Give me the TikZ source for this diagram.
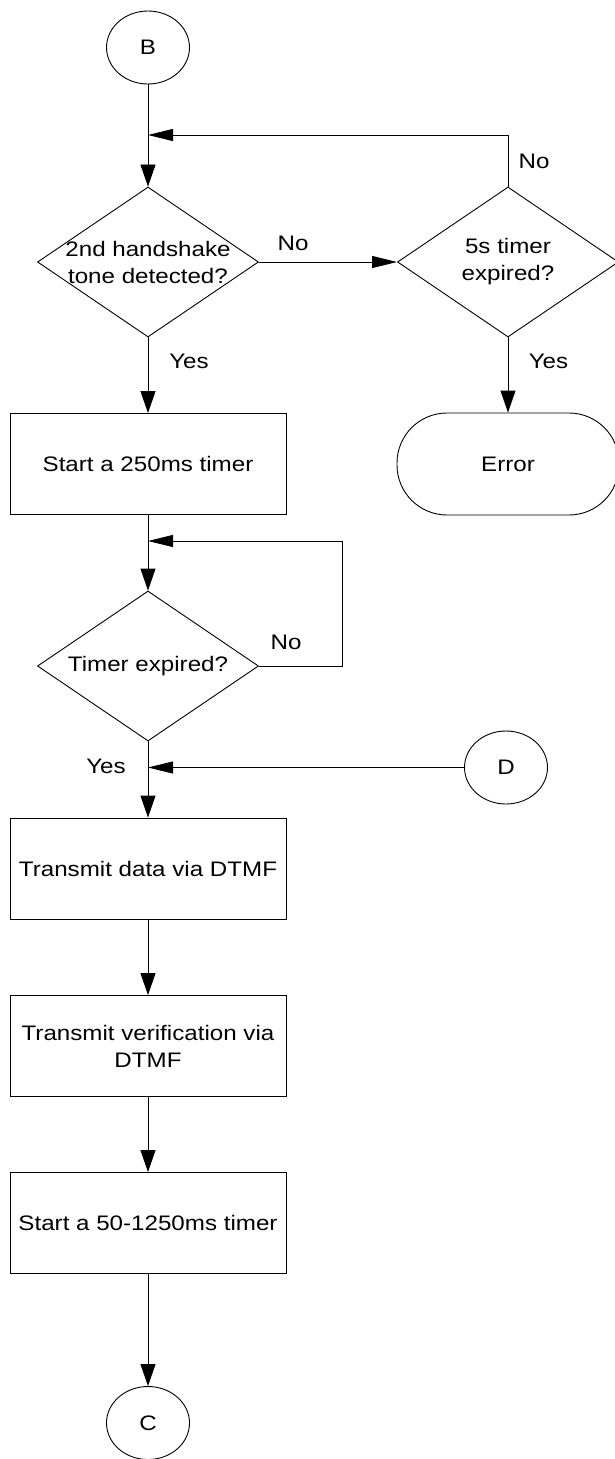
\documentclass[tikz,border=0pt]{standalone}
\usepackage{fontspec}
\setmainfont{Liberation Sans}[FakeStretch=1.15]
\usepackage{tikz}
\usetikzlibrary{arrows.meta,shapes.geometric}

\begin{document}
\begin{tikzpicture}[x=1pt,y=1pt,yscale=-1,xscale=1,
  font=\fontsize{21}{27}\selectfont,
  line width=0.9pt,
  process/.style={draw,rectangle,minimum width=276,minimum height=101,inner sep=0pt,align=center},
  decision/.style={draw,diamond,minimum width=221,minimum height=150,inner sep=0pt},
  dtext/.style={inner sep=0pt,align=center},
  connector/.style={draw,ellipse,minimum width=83,minimum height=73,inner sep=0pt},
  terminal/.style={draw,rectangle,rounded corners=50pt,minimum width=222,minimum height=102,inner sep=0pt},
  lbl/.style={inner sep=0pt},
  flow/.style={-{Triangle[length=22pt,width=15pt]}},
  hflow/.style={-{Triangle[length=25pt,width=12pt]}}]
\useasboundingbox (0,0) rectangle (614,1459);

%Shape: Circle
\node[connector] (B) at (148,47.5) {B};
%Shape: Diamond
\node[decision] (hand) at (148,262) {};
\node[dtext] (handtxt) at (hand) {2nd handshake\\tone detected?};
%Shape: Diamond
\node[decision] (t5) at (508,262) {};
\node[dtext] (t5txt) at (t5) {5s timer\\expired?};
%Shape: Terminator
\node[terminal] (err) at (508,464) {Error};
%Shape: Rectangle
\node[process] (start250) at (148,464) {Start a 250ms timer};
%Shape: Diamond
\node[decision] (texp) at (148,666) {};
\node[dtext] (texptxt) at (texp) {Timer expired?};
%Shape: Circle
\node[connector] (D) at (506,767.5) {D};
%Shape: Rectangle
\node[process] (txdata) at (148,868.5) {Transmit data via DTMF};
%Shape: Rectangle
\node[process] (txver) at (148,1046) {Transmit verification via\\DTMF};
%Shape: Rectangle
\node[process] (start1250) at (148,1223) {Start a 50-1250ms timer};
%Shape: Circle
\node[connector] (C) at (148,1423) {C};

% Junctions
\coordinate (j1) at (148,135);
\coordinate (j2) at (148,541);
\coordinate (bend) at (342,541);
\coordinate (j3) at (148,767.5);

%Straight Lines
\draw[flow] (B) -- (hand);
\draw[hflow] (hand.east) -- (t5.west);
\draw[hflow] (t5.north) |- (j1);
\draw[flow] (t5.south) -- (err.north);
\draw[flow] (hand.south) -- (start250.north);
\draw[flow] (start250.south) -- (texp.north);
\draw[hflow] (texp.east) -| (bend) -- (j2);
\draw[flow] (texp.south) -- (txdata.north);
\draw[hflow] (D) -- (j3);
\draw[flow] (txdata) -- (txver);
\draw[flow] (txver) -- (start1250);
\draw[flow] (start1250) -- (C);

% Text Node
\node[lbl] (no1) at (293,243) {No};
% Text Node
\node[lbl] (no2) at (534,161) {No};
% Text Node
\node[lbl] (yes1) at (189,361) {Yes};
% Text Node
\node[lbl] (yes2) at (548.5,361) {Yes};
% Text Node
\node[lbl] (no3) at (286,642) {No};
% Text Node
\node[lbl] (yes3) at (106,766) {Yes};

\end{tikzpicture}
\end{document}
